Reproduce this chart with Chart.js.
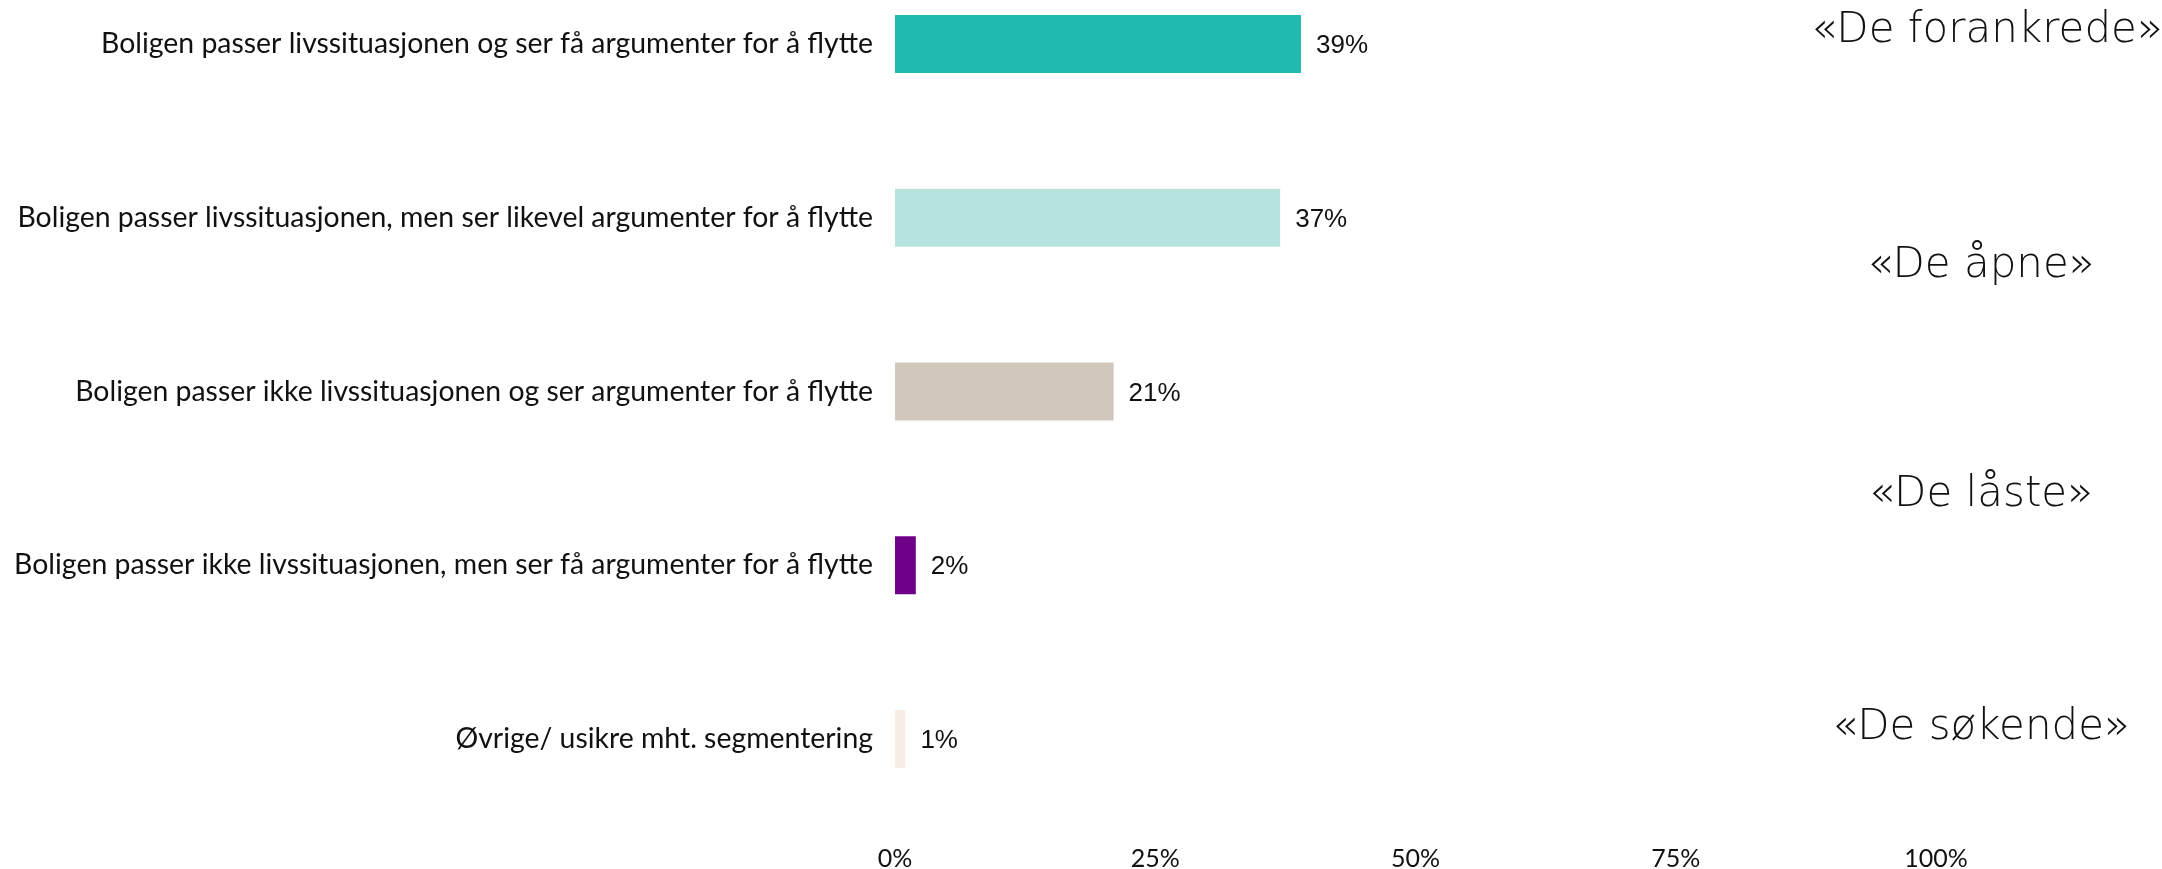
<!DOCTYPE html>
<html>
<head>
<meta charset="utf-8">
<script src="https://cdn.jsdelivr.net/npm/chart.js@4.4.1/dist/chart.umd.min.js"></script>
<style>
  html, body { margin: 0; padding: 0; background: #fff; overflow: hidden; }
  body { width: 2162px; height: 869px; position: relative; }
  #wrap { position: absolute; left: 0; top: -43px; width: 2162px; height: 912px; }
  .segment {
    position: absolute; transform: translate(-50%, -50%);
    font-family: "DejaVu Sans", sans-serif; font-weight: 200; font-size: 42px;
    color: #111; white-space: nowrap;
  }
</style>
</head>
<body>
<div id="wrap"><canvas id="segments-chart" width="2162" height="912"></canvas></div>
<div class="segment" style="left:1987px; top:27px;">«De forankrede»</div>
<div class="segment" style="left:1981px; top:262px;">«De åpne»</div>
<div class="segment" style="left:1981px; top:491px;">«De låste»</div>
<div class="segment" style="left:1981px; top:724px;">«De søkende»</div>
<script>
const categories = [
    'Boligen passer livssituasjonen og ser få argumenter for å flytte',
    'Boligen passer livssituasjonen, men ser likevel argumenter for å flytte',
    'Boligen passer ikke livssituasjonen og ser argumenter for å flytte',
    'Boligen passer ikke livssituasjonen, men ser få argumenter for å flytte',
    'Øvrige/ usikre mht. segmentering'
];
const shares = [39, 37, 21, 2, 1];
const barColors = ['#21BAAE', '#B7E4DF', '#D2C7BC', '#6E0088', '#F8EDE4'];
const xTicks = [0, 25, 50, 75, 100];

// writes "NN%" just right of each bar
const valueLabels = {
    id: 'valueLabels',
    afterDatasetsDraw(chart) {
        const ctx = chart.ctx;
        const meta = chart.getDatasetMeta(0);
        ctx.save();
        ctx.font = '26px "Liberation Sans", Arial, sans-serif';
        ctx.fillStyle = '#111';
        ctx.textAlign = 'left';
        ctx.textBaseline = 'middle';
        meta.data.forEach((bar, i) => {
            ctx.fillText(shares[i] + '%', bar.x + 15, bar.y + 2);
        });
        ctx.restore();
    }
};

let ctx = document.getElementById('segments-chart').getContext('2d');
new Chart(ctx, {
    type: 'bar',
    data: {
        labels: categories,
        datasets: [{
            data: shares,
            backgroundColor: barColors,
            borderWidth: 0,
            barPercentage: 1,
            categoryPercentage: 0.334
        }]
    },
    options: {
        indexAxis: 'y',
        responsive: false,
        maintainAspectRatio: false,
        animation: false,
        layout: { padding: { left: 0, right: 226, top: 0, bottom: 0 } },
        plugins: { legend: { display: false }, tooltip: { enabled: false } },
        scales: {
            x: {
                min: 0,
                max: 100,
                afterBuildTicks: (scale) => { scale.ticks = xTicks.map(v => ({ value: v })); },
                afterFit: (scale) => {
                    scale.height = 43;
                    scale.paddingLeft = 0;
                },
                grid: { display: false, drawTicks: false },
                border: { display: false },
                ticks: {
                    padding: 18,
                    color: '#111',
                    font: { family: 'Lato', size: 25 },
                    callback: (v) => v + '%'
                }
            },
            y: {
                afterFit: (scale) => {
                    scale.width = 895;
                    scale.paddingTop = 0;
                    scale.paddingBottom = 0;
                },
                grid: { display: false, drawTicks: false },
                border: { display: false },
                ticks: {
                    padding: 22,
                    color: '#111',
                    font: { family: 'Lato', size: 28.4 }
                }
            }
        }
    },
    plugins: [valueLabels]
});
</script>
</body>
</html>
